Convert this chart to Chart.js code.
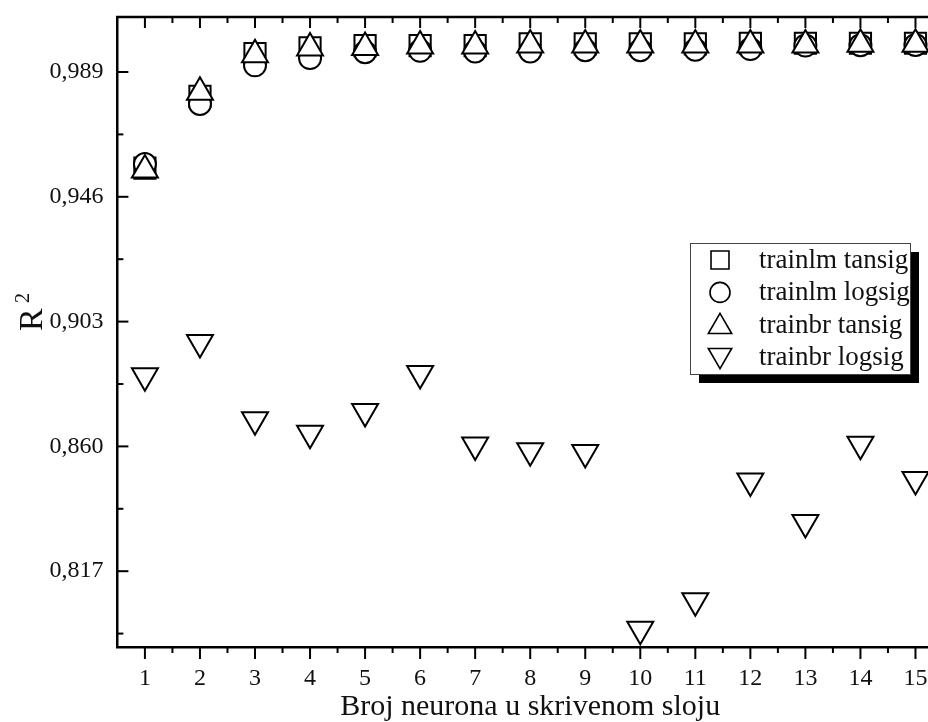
<!DOCTYPE html>
<html>
<head>
<meta charset="utf-8">
<script src="https://cdn.jsdelivr.net/npm/chart.js@4/dist/chart.umd.min.js"></script>
<style>
  html, body { margin: 0; padding: 0; background: #fff; overflow: hidden; }
  #wrap { width: 960px; height: 722px; }
</style>
</head>
<body>
<div id="wrap"><canvas id="r2Chart" width="960" height="722"></canvas></div>
<script>
// === DATA ===
const neurons = [1, 2, 3, 4, 5, 6, 7, 8, 9, 10, 11, 12, 13, 14, 15];
const trainlmTansig = [0.9559, 0.9806, 0.9953, 0.9973, 0.9981, 0.9981, 0.9981, 0.9987, 0.9987, 0.9987, 0.9987, 0.9989, 0.9989, 0.9989, 0.9989];
const trainlmLogsig = [0.9573, 0.9780, 0.9913, 0.9938, 0.9958, 0.9963, 0.9961, 0.9961, 0.9965, 0.9965, 0.9967, 0.9969, 0.9981, 0.9982, 0.9983];
const trainbrTansig = [0.9552, 0.9820, 0.9949, 0.9973, 0.9974, 0.9980, 0.9980, 0.9983, 0.9983, 0.9983, 0.9983, 0.9983, 0.9983, 0.9986, 0.9986];
const trainbrLogsig = [0.8843, 0.8958, 0.8692, 0.8645, 0.8720, 0.8851, 0.8605, 0.8585, 0.8579, 0.7970, 0.8068, 0.8481, 0.8338, 0.8607, 0.8486];
const seriesLabels = ["trainlm tansig", "trainlm logsig", "trainbr tansig", "trainbr logsig"];

const yMajorTicks = [0.817, 0.860, 0.903, 0.946, 0.989];
const yMinorTicks = [0.7955, 0.8385, 0.8815, 0.9245, 0.9675];
const xMinorTicks = [1.5, 2.5, 3.5, 4.5, 5.5, 6.5, 7.5, 8.5, 9.5, 10.5, 11.5, 12.5, 13.5, 14.5];

const SERIF = "'Liberation Serif', 'Times New Roman', serif";

function pts(vals) {
  return vals.map((v, i) => ({ x: neurons[i], y: v }));
}

// symbol per series (plot radius, legend radius)
const symbols = [
  { pointStyle: "rect", rotation: 0, radius: 15, legendRadius: 12.7 },
  { pointStyle: "circle", rotation: 0, radius: 11, legendRadius: 10 },
  { pointStyle: "triangle", rotation: 0, radius: 15, legendRadius: 13.5 },
  { pointStyle: "triangle", rotation: 180, radius: 15, legendRadius: 13.5 }
];

// === AXIS FRAME + TICKS ===
const axisFrame = {
  id: "axisFrame",
  afterDatasetsDraw(chart) {
    const { ctx, chartArea: a, scales: { x, y } } = chart;
    ctx.save();
    ctx.strokeStyle = "#000";
    ctx.lineWidth = 2.5;
    ctx.beginPath();
    ctx.moveTo(a.left - 1.25, a.top);
    ctx.lineTo(a.right, a.top);
    ctx.stroke();

    ctx.lineWidth = 2;
    const tick = (x1, y1, x2, y2) => {
      ctx.beginPath();
      ctx.moveTo(x1, y1);
      ctx.lineTo(x2, y2);
      ctx.stroke();
    };
    neurons.forEach(n => {
      const px = x.getPixelForValue(n);
      tick(px, a.bottom, px, a.bottom + 12);
      tick(px, a.top, px, a.top + 11);
    });
    xMinorTicks.forEach(n => {
      const px = x.getPixelForValue(n);
      tick(px, a.bottom, px, a.bottom + 6);
      tick(px, a.top, px, a.top + 6);
    });
    yMajorTicks.forEach(v => {
      const py = y.getPixelForValue(v);
      tick(a.left, py, a.left + 11, py);
    });
    yMinorTicks.forEach(v => {
      const py = y.getPixelForValue(v);
      tick(a.left, py, a.left + 6, py);
    });
    ctx.restore();
  }
};

// === Y TITLE (R with superscript 2) ===
const yTitle = {
  id: "yTitle",
  afterDraw(chart) {
    const ctx = chart.ctx;
    ctx.save();
    ctx.translate(42, 331);
    ctx.rotate(-Math.PI / 2);
    ctx.fillStyle = "#111";
    ctx.textBaseline = "alphabetic";
    ctx.font = "34px " + SERIF;
    ctx.fillText("R", 0, 0);
    ctx.font = "20px " + SERIF;
    ctx.fillText("2", 28, -13);
    ctx.restore();
  }
};

// === LEGEND WITH SHADOW ===
const shadowLegend = {
  id: "shadowLegend",
  afterDraw(chart) {
    const ctx = chart.ctx;
    const box = { x: 690, y: 243, w: 220, h: 131 };
    ctx.save();
    ctx.fillStyle = "#000";
    ctx.fillRect(box.x + 9, box.y + 9, box.w, box.h);
    ctx.fillStyle = "#fff";
    ctx.fillRect(box.x, box.y, box.w, box.h);
    ctx.strokeStyle = "#444";
    ctx.lineWidth = 1;
    ctx.strokeRect(box.x + 0.5, box.y + 0.5, box.w, box.h);

    chart.data.datasets.forEach((ds, i) => {
      const cy = box.y + 17 + i * 32.4;
      const s = symbols[i];
      ctx.fillStyle = "#fff";
      ctx.strokeStyle = "#000";
      ctx.lineWidth = 1.6;
      Chart.helpers.drawPoint(ctx, {
        pointStyle: s.pointStyle,
        rotation: s.rotation,
        radius: s.legendRadius,
        borderWidth: 1.6
      }, 720, cy + (s.pointStyle === "triangle" ? (s.rotation ? -2 : 2) : 0));
      ctx.fillStyle = "#111";
      ctx.font = "27px " + SERIF;
      ctx.textBaseline = "middle";
      ctx.textAlign = "left";
      ctx.fillText(ds.label, 759, cy + 1);
    });
    ctx.restore();
  }
};

function makeDataset(i, vals, order) {
  const s = symbols[i];
  return {
    label: seriesLabels[i],
    data: pts(vals),
    order: order,
    showLine: false,
    pointStyle: s.pointStyle,
    rotation: s.rotation,
    pointRadius: s.radius,
    pointBackgroundColor: "#fff",
    pointBorderColor: "#000",
    pointBorderWidth: 2
  };
}

new Chart(document.getElementById("r2Chart"), {
  type: "scatter",
  data: {
    datasets: [
      makeDataset(0, trainlmTansig, 3),
      makeDataset(1, trainlmLogsig, 2),
      makeDataset(2, trainbrTansig, 1),
      makeDataset(3, trainbrLogsig, 0)
    ]
  },
  options: {
    responsive: false,
    animation: false,
    events: [],
    layout: { padding: { left: 0, top: 17, right: 15.7, bottom: 0 } },
    plugins: {
      legend: { display: false },
      tooltip: { enabled: false }
    },
    scales: {
      x: {
        type: "linear",
        min: 0.5,
        max: 15.5,
        afterFit: s => { s.height = 75; s.paddingLeft = 0; s.paddingRight = 0; },
        afterBuildTicks: s => { s.ticks = neurons.map(v => ({ value: v })); },
        grid: { display: false, drawTicks: false },
        border: { display: true, width: 2.5, color: "#000" },
        ticks: {
          padding: 17,
          color: "#111",
          font: { family: SERIF, size: 24 },
          callback: v => String(v)
        },
        title: {
          display: true,
          text: "Broj neurona u skrivenom sloju",
          color: "#111",
          font: { family: SERIF, size: 30, lineHeight: 1 },
          padding: { top: 0, bottom: 0 }
        }
      },
      y: {
        type: "linear",
        min: 0.79088,
        max: 1.00795,
        afterFit: s => { s.width = 117.4; s.paddingTop = 0; s.paddingBottom = 0; },
        afterBuildTicks: s => { s.ticks = yMajorTicks.map(v => ({ value: v })); },
        grid: { display: false, drawTicks: false },
        border: { display: true, width: 2.5, color: "#000" },
        ticks: {
          padding: 14,
          color: "#111",
          font: { family: SERIF, size: 24 },
          callback: v => v.toFixed(3).replace(".", ",")
        }
      }
    }
  },
  plugins: [axisFrame, yTitle, shadowLegend]
});
</script>
</body>
</html>
